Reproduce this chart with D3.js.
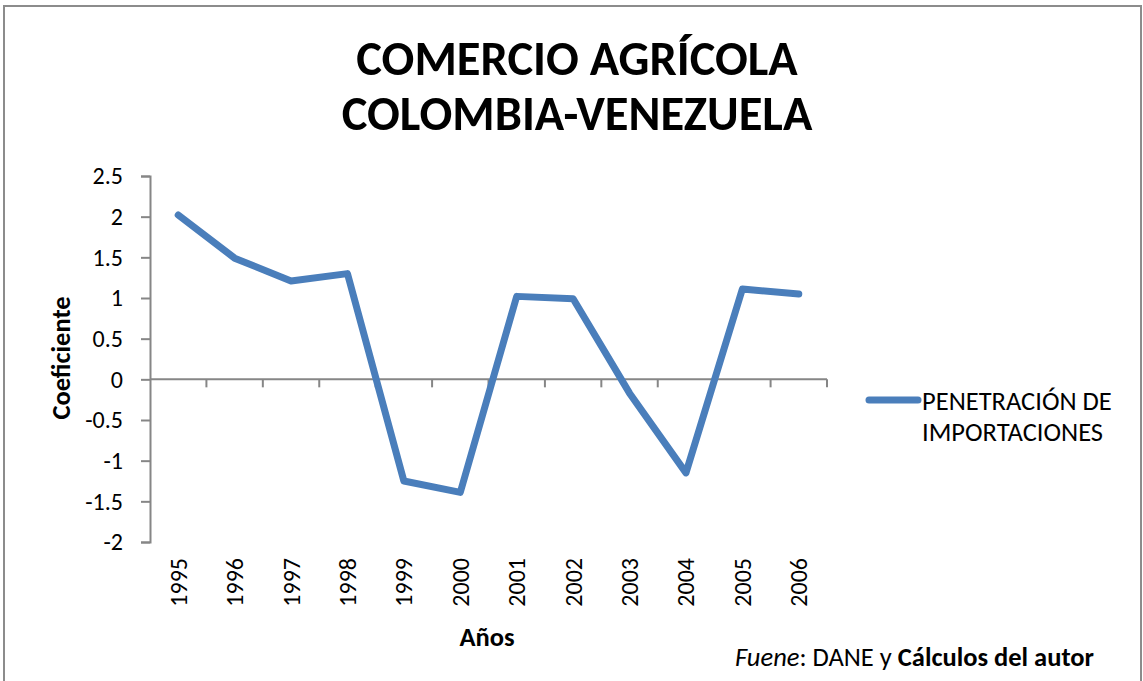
<!DOCTYPE html>
<html>
<head>
<meta charset="utf-8">
<script src="https://cdn.jsdelivr.net/npm/d3@7"></script>
<style>
  html, body { margin: 0; padding: 0; background: #fff; }
  svg { display: block; }
  text { font-family: Carlito, Calibri, Lato, "Liberation Sans", sans-serif; fill: #000; }
</style>
</head>
<body>
<svg id="chart" width="1143" height="681"></svg>
<script>
const years = ["1995","1996","1997","1998","1999","2000","2001","2002","2003","2004","2005","2006"];
const penetracion = [2.02, 1.49, 1.21, 1.30, -1.25, -1.39, 1.02, 0.99, -0.17, -1.15, 1.11, 1.05];
const yTicks = [2.5, 2, 1.5, 1, 0.5, 0, -0.5, -1, -1.5, -2];
const titleLines = ["COMERCIO AGRÍCOLA", "COLOMBIA-VENEZUELA"];
const seriesName = ["PENETRACIÓN DE", "IMPORTACIONES"];

(function () {
const svg = d3.select("#chart");
const axisColor = "#868686";
const lineColor = "#4a7ebb";

// outer border
svg.append("rect").attr("x", 4).attr("y", 6).attr("width", 1137).attr("height", 680)
  .attr("fill", "none").attr("stroke", "#8c8c8c").attr("stroke-width", 2);

const pLeft = 150, pRight = 827, pTop = 176, pBottom = 542;
const x = d3.scaleBand().domain(years).range([pLeft, pRight]).padding(0);
const y = d3.scaleLinear().domain([-2, 2.5]).range([pBottom, pTop]);

// title
svg.append("g").selectAll("text").data(titleLines).enter().append("text")
  .attr("x", 577).attr("y", (d, i) => 75 + i * 55)
  .attr("text-anchor", "middle")
  .attr("font-size", 48.5).attr("font-weight", "bold")
  .text(d => d);

// y axis
const yAxis = svg.append("g").attr("transform", `translate(${pLeft},0)`)
  .call(d3.axisLeft(y).tickValues(yTicks).tickSize(9).tickPadding(18).tickFormat(d => String(d)));
yAxis.attr("font-family", null).attr("font-size", null);
yAxis.select(".domain").attr("stroke", axisColor).attr("stroke-width", 2);
yAxis.selectAll(".tick line").attr("stroke", axisColor).attr("stroke-width", 2);
yAxis.selectAll(".tick text").attr("font-size", 24).attr("fill", "#000");

// x axis at zero
const x0 = y(0);
const xAxisG = svg.append("g");
xAxisG.append("line").attr("x1", pLeft).attr("x2", pRight).attr("y1", x0).attr("y2", x0)
  .attr("stroke", axisColor).attr("stroke-width", 2);
const boundaries = years.map(d => x(d)).concat([x(years[years.length - 1]) + x.bandwidth()]);
xAxisG.selectAll("line.tk").data(boundaries.slice(1)).enter().append("line")
  .attr("class", "tk")
  .attr("x1", d => d).attr("x2", d => d).attr("y1", x0).attr("y2", x0 + 8)
  .attr("stroke", axisColor).attr("stroke-width", 2);

// x tick labels (rotated) below plot
svg.append("g").selectAll("text").data(years).enter().append("text")
  .attr("transform", d => `translate(${x(d) + x.bandwidth() / 2 + 8.5},558) rotate(-90)`)
  .attr("text-anchor", "end")
  .attr("font-size", 24)
  .text(d => d);

// line
const line = d3.line().x((d, i) => x(years[i]) + x.bandwidth() / 2).y(d => y(d));
svg.append("path").datum(penetracion)
  .attr("d", line).attr("fill", "none").attr("stroke", lineColor)
  .attr("stroke-width", 7).attr("stroke-linejoin", "round").attr("stroke-linecap", "round");

// axis titles
svg.append("text").attr("transform", "translate(70,358) rotate(-90)")
  .attr("text-anchor", "middle").attr("font-size", 26.5).attr("font-weight", "bold")
  .text("Coeficiente");
svg.append("text").attr("x", 487).attr("y", 646)
  .attr("text-anchor", "middle").attr("font-size", 26.5).attr("font-weight", "bold")
  .text("Años");

// legend
svg.append("line").attr("x1", 869).attr("x2", 918).attr("y1", 400).attr("y2", 400)
  .attr("stroke", lineColor).attr("stroke-width", 7).attr("stroke-linecap", "round");
svg.append("g").selectAll("text").data(seriesName).enter().append("text")
  .attr("x", 922).attr("y", (d, i) => 410 + i * 31)
  .attr("font-size", 26.5).text(d => d);

// source note
const note = svg.append("text").attr("x", 1094).attr("y", 666).attr("text-anchor", "end").attr("font-size", 26.5);
note.append("tspan").attr("font-style", "italic").text("Fuene");
note.append("tspan").text(": DANE y ");
note.append("tspan").attr("font-weight", "bold").text("Cálculos del autor");
})();
</script>
</body>
</html>
